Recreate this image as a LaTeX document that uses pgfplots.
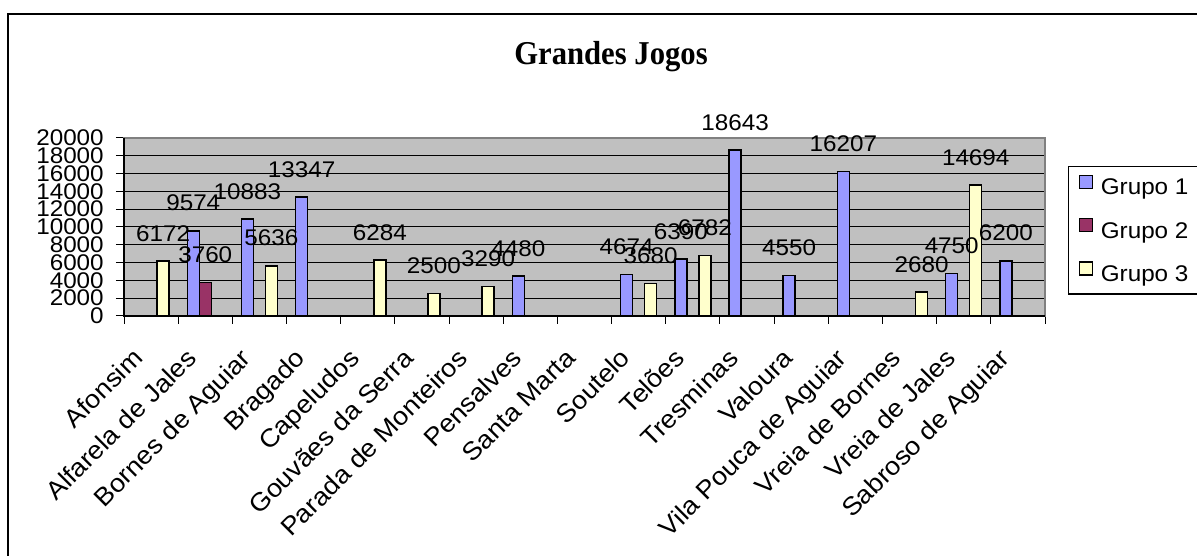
\documentclass[border=0pt]{standalone}
\usepackage{fontspec}
\setmainfont{Liberation Sans}[FakeStretch=1.07]
\newfontfamily\titlefont{Liberation Serif}[FakeStretch=0.92]
\usepackage{pgfplots}
\pgfplotsset{compat=1.18}
\definecolor{grupoA}{HTML}{9999FF}
\definecolor{grupoB}{HTML}{993366}
\definecolor{grupoC}{HTML}{FFFFCC}
\definecolor{plotbg}{HTML}{C0C0C0}
\newcommand{\lblfont}{\fontsize{17}{18}\selectfont}
\newcommand{\catfont}{\fontsize{19}{20}\selectfont}
\begin{document}
\begin{tikzpicture}[x=0.75pt,y=0.75pt]
\useasboundingbox (0,0) rectangle (1197,556);
% moldura exterior (cortada a direita e em baixo)
\draw[line width=1.1pt] (8,-10) -- (8,542) -- (1210,542);
\node[font=\titlefont\bfseries\fontsize{25}{28}\selectfont, anchor=base] at (611,491) {Grandes Jogos};
\coordinate (origem) at (124,240);
\begin{axis}[
    at={(origem)}, anchor=south west,
    scale only axis,
    width=690.75pt, height=133.5pt,
    ybar=0pt, bar width=9pt,
    clip=false,
    xmin=-0.5, xmax=16.5,
    ymin=0, ymax=20000,
    ytick={0,2000,...,20000},
    scaled y ticks=false,
    xtick={-0.5,0.5,...,16.5},
    xticklabels={},
    extra x ticks={0,1,...,16},
    extra x tick labels={Afonsim, Alfarela de Jales, Bornes de Aguiar, Bragado, Capeludos, Gouvães da Serra, Parada de Monteiros, Pensalves, Santa Marta, Soutelo, Telões, Tresminas, Valoura, Vila Pouca de Aguiar, Vreia de Bornes, Vreia de Jales, Sabroso de Aguiar},
    extra x tick style={major tick length=0pt,
        xticklabel style={font=\catfont, inner sep=0pt, xshift=-15pt, yshift=-23pt, rotate=45, anchor=north east}},
    tick align=outside, tick pos=left,
    major tick length=6pt,
    ymajorgrids, grid style={black, line width=0.75pt},
    axis background/.style={fill=plotbg},
    axis line style={draw=black!50, line width=0.9pt},
    tick style={black, line width=0.75pt},
    yticklabel style={font=\lblfont, inner sep=0pt, xshift=-9pt},
    /pgf/number format/assume math mode=true,
    /pgf/number format/1000 sep={},
    nodes near coords,
    every node near coord/.append style={font=\lblfont, black, anchor=base, yshift=15pt},
    legend style={at={(1.025,0.843)}, anchor=north west, draw=black, line width=0.9pt,
        fill=white, font=\lblfont, inner xsep=7.5pt, inner ysep=6pt,
        row sep=14pt, column sep=6pt,
        nodes={inner sep=0pt, text height=12pt, text depth=3.5pt}},
    legend cell align=left,
    legend image code/.code={\draw[#1, line width=0.9pt] (0pt,0.6pt) rectangle (9.75pt,10.35pt);},
]
\addplot[fill=grupoA, draw=black, line width=1.1pt] coordinates {
    (1,9574) (2,10883) (3,13347) (7,4480) (9,4674) (10,6390) (11,18643) (12,4550) (13,16207) (15,4750) (16,6200)
};
\addplot[fill=grupoB, draw=black, line width=1.1pt] coordinates {
    (1,3760)
};
\addplot[fill=grupoC, draw=black, line width=1.1pt] coordinates {
    (0,6172) (2,5636) (4,6284) (5,2500) (6,3290) (9,3680) (10,6782) (14,2680) (15,14694)
};
% linhas pretas dos eixos
\draw[black, line width=1pt] (rel axis cs:0,1) -- (rel axis cs:0,0) -- (rel axis cs:1,0);
\legend{Grupo 1, Grupo 2, Grupo 3}
\end{axis}
\end{tikzpicture}
\end{document}
